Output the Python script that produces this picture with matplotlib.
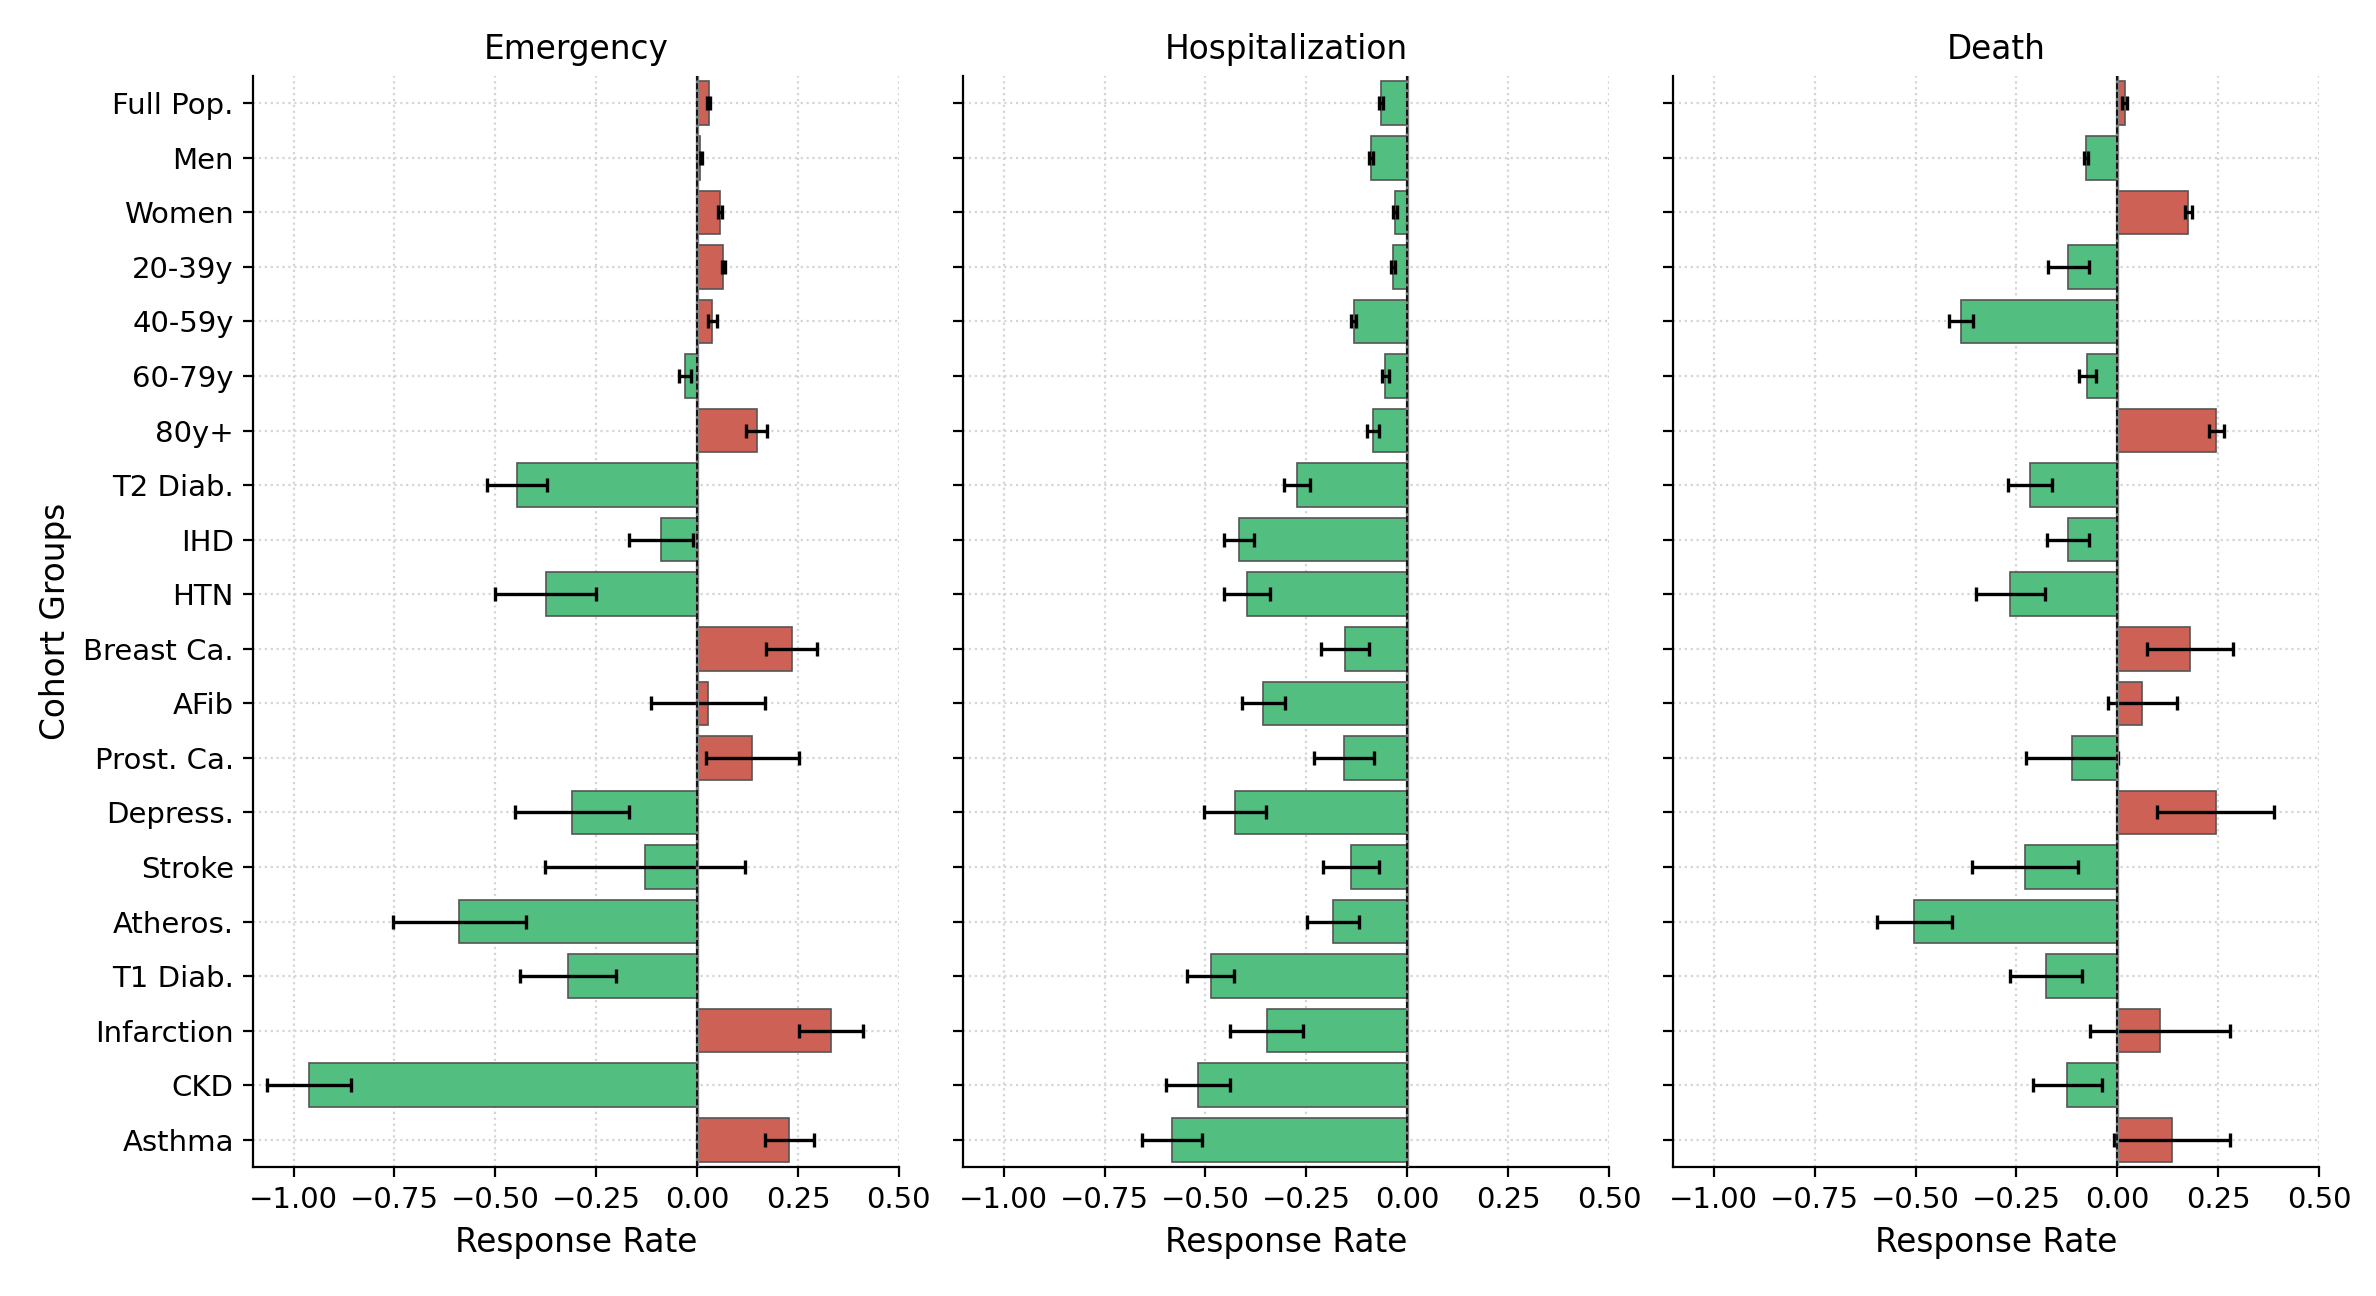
import numpy as np
import matplotlib
matplotlib.use("Agg")
import matplotlib.pyplot as plt

groups = ["Full Pop.", "Men", "Women", "20-39y", "40-59y", "60-79y", "80y+",
          "T2 Diab.", "IHD", "HTN", "Breast Ca.", "AFib", "Prost. Ca.",
          "Depress.", "Stroke", "Atheros.", "T1 Diab.", "Infarction", "CKD", "Asthma"]

emergency = [0.029, 0.008, 0.057, 0.065, 0.038, -0.029, 0.148, -0.447, -0.089, -0.375,
             0.235, 0.027, 0.137, -0.310, -0.128, -0.589, -0.320, 0.331, -0.962, 0.229]
emergency_err = [0.004, 0.003, 0.004, 0.004, 0.011, 0.015, 0.026, 0.074, 0.079, 0.125,
                 0.063, 0.141, 0.116, 0.141, 0.248, 0.165, 0.118, 0.079, 0.105, 0.060]

hosp = [-0.065, -0.090, -0.030, -0.035, -0.132, -0.054, -0.085, -0.273, -0.417, -0.397,
        -0.154, -0.357, -0.156, -0.427, -0.139, -0.184, -0.487, -0.348, -0.519, -0.583]
hosp_err = [0.005, 0.005, 0.005, 0.005, 0.006, 0.009, 0.014, 0.032, 0.037, 0.057,
            0.059, 0.053, 0.074, 0.077, 0.069, 0.065, 0.059, 0.090, 0.079, 0.075]

death = [0.018, -0.078, 0.176, -0.121, -0.388, -0.074, 0.246, -0.216, -0.122, -0.265,
         0.181, 0.062, -0.112, 0.244, -0.229, -0.503, -0.177, 0.106, -0.124, 0.136]
death_err = [0.007, 0.005, 0.009, 0.051, 0.030, 0.022, 0.019, 0.055, 0.053, 0.086,
             0.107, 0.085, 0.113, 0.145, 0.132, 0.093, 0.090, 0.174, 0.086, 0.143]

titles = ["Emergency", "Hospitalization", "Death"]
series = [(emergency, emergency_err), (hosp, hosp_err), (death, death_err)]

RED = "#cd6155"
GREEN = "#52be80"

fig, axes = plt.subplots(1, 3, figsize=(11.88, 6.48), dpi=200, sharey=True, sharex=True)
fig.subplots_adjust(left=0.1066, right=0.976, bottom=0.0995, top=0.9414, wspace=0.1)

y = np.arange(len(groups))
for ax, title, (vals, errs) in zip(axes, titles, series):
    colors = [RED if v > 0 else GREEN for v in vals]
    ax.grid(True, linestyle=":", color="#d5d5d5", linewidth=0.8, zorder=0)
    ax.barh(y, vals, height=0.8, color=colors, edgecolor="#555555", linewidth=0.6, zorder=2)
    ax.errorbar(vals, y, xerr=errs, fmt="none", ecolor="black", elinewidth=1.2,
                capsize=2.6, capthick=1.2, zorder=3)
    ax.axvline(0, color="gray", linewidth=1.2, zorder=4)
    ax.axvline(0, color="black", linestyle="--", linewidth=0.6, zorder=5)
    ax.set_title(title, fontsize=11.8)
    ax.set_xlabel("Response Rate", fontsize=11.8)
    ax.spines["top"].set_visible(False)
    ax.spines["right"].set_visible(False)
    ax.tick_params(labelsize=10.5)
    ax.set_axisbelow(True)

axes[0].set_yticks(y)
axes[0].set_yticklabels(groups)
axes[0].set_ylim(len(groups) - 0.5, -0.5)
axes[0].set_xlim(-1.1, 0.5)
axes[0].set_xticks([-1.0, -0.75, -0.5, -0.25, 0.0, 0.25, 0.5])
axes[0].set_ylabel("Cohort Groups", fontsize=11.8)

fig.savefig("out.png", dpi=200)
